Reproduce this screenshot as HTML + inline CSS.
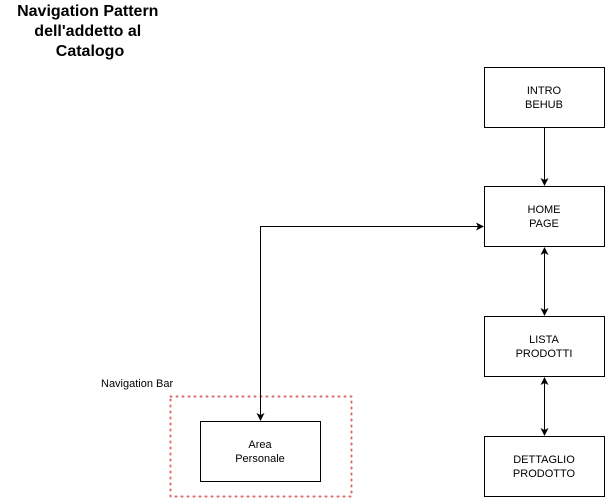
<!DOCTYPE html>
<html><head><style>
body{margin:0;width:605px;height:499px;background:#fff;overflow:hidden;font-family:"Liberation Sans",sans-serif}
</style></head><body>
<svg width="605" height="499" xmlns="http://www.w3.org/2000/svg" font-family="Liberation Sans, sans-serif">
<defs>
<marker id="a" markerWidth="8" markerHeight="8" refX="7" refY="4" orient="auto" markerUnits="userSpaceOnUse">
<path d="M0,0 L8,4 L0,8 L2,4 Z" fill="#000"/></marker>
<marker id="s" markerWidth="8" markerHeight="8" refX="1" refY="4" orient="auto" markerUnits="userSpaceOnUse">
<path d="M8,0 L0,4 L8,8 L6,4 Z" fill="#000"/></marker>
</defs>
<text text-anchor="middle" font-weight="bold" font-size="16">
<tspan x="90" y="16">Navigation Pattern</tspan>
<tspan x="90" y="36">dell'addetto al</tspan>
<tspan x="90" y="56">Catalogo</tspan></text>
<text x="101" y="387" font-size="11">Navigation Bar</text>
<rect x="170.5" y="396.5" width="181" height="100" fill="none" stroke="#e06666" stroke-width="2" stroke-dasharray="1,5" stroke-linecap="round"/>
<g fill="#fff" stroke="#000" stroke-width="1">
<rect x="484.5" y="67.5" width="120" height="60"/>
<rect x="484.5" y="186.5" width="120" height="60"/>
<rect x="484.5" y="316.5" width="120" height="60"/>
<rect x="484.5" y="436.5" width="120" height="60"/>
<rect x="200.5" y="421.5" width="120" height="60"/>
</g>
<g font-size="11" text-anchor="middle">
<text x="544" y="94">INTRO</text><text x="544" y="108">BEHUB</text>
<text x="544" y="213">HOME</text><text x="544" y="227">PAGE</text>
<text x="544" y="343">LISTA</text><text x="544" y="357">PRODOTTI</text>
<text x="544" y="463">DETTAGLIO</text><text x="544" y="477">PRODOTTO</text>
<text x="260" y="448">Area</text><text x="260" y="462">Personale</text>
</g>
<g stroke="#000" fill="none" stroke-width="1">
<path d="M544.5 128 V185" marker-end="url(#a)"/>
<path d="M544.5 248 V315" marker-start="url(#s)" marker-end="url(#a)"/>
<path d="M544.5 378 V435" marker-start="url(#s)" marker-end="url(#a)"/>
<path d="M260.5 226.5 H483" marker-end="url(#a)"/>
<path d="M260.5 226 V420" marker-end="url(#a)"/>
</g>
</svg>
</body></html>
